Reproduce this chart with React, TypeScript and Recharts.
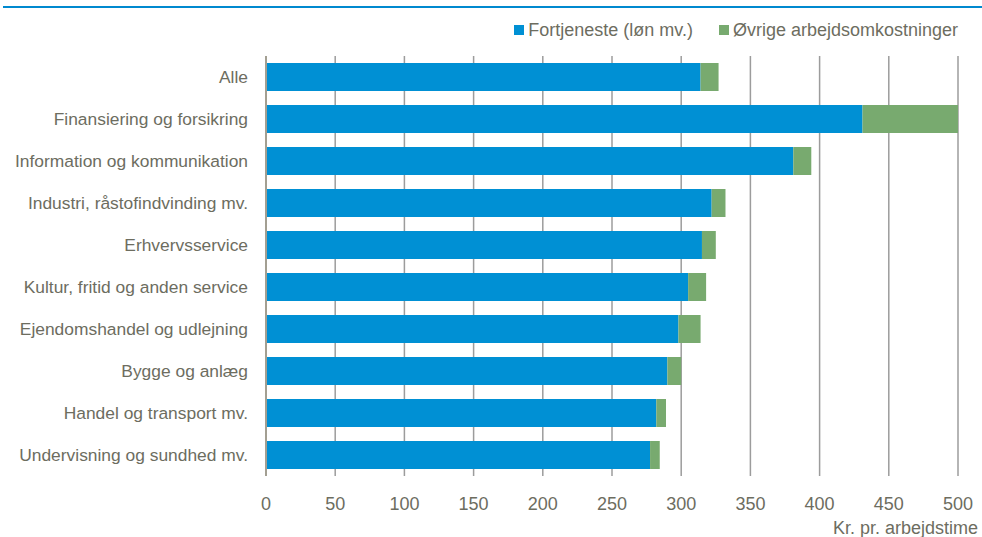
import { BarChart, Bar, XAxis, YAxis, CartesianGrid } from 'recharts';

const categories = [
  'Alle',
  'Finansiering og forsikring',
  'Information og kommunikation',
  'Industri, råstofindvinding mv.',
  'Erhvervsservice',
  'Kultur, fritid og anden service',
  'Ejendomshandel og udlejning',
  'Bygge og anlæg',
  'Handel og transport mv.',
  'Undervisning og sundhed mv.',
];
const fortjeneste = [314, 431, 381, 322, 315, 305, 298, 290, 282, 277.5];
const oevrige = [13, 69, 13, 10, 10, 13, 16, 10, 7, 7];
const xTicks = [0, 50, 100, 150, 200, 250, 300, 350, 400, 450, 500];

const data = categories.map((name, i) => ({
  name,
  fortjeneste: fortjeneste[i],
  oevrige: oevrige[i],
}));

const BLUE = '#0090d4';
const GREEN = '#78aa6f';
const TEXT = '#6d6d5f';
const FONT = "'Liberation Sans Narrow', 'Arial Narrow', 'Liberation Sans', sans-serif";

function LegendBox() {
  const items = [
    { label: 'Fortjeneste (løn mv.)', color: BLUE },
    { label: 'Øvrige arbejdsomkostninger', color: GREEN },
  ];
  return (
    <div style={{
      position: 'absolute', top: 19, right: 24, display: 'flex',
      fontFamily: FONT, fontSize: 18, color: TEXT, lineHeight: '22px',
    }}>
      {items.map(it => (
        <div key={it.label} style={{ display: 'flex', alignItems: 'center', marginLeft: 26 }}>
          <span style={{ width: 10, height: 10, background: it.color, marginRight: 4, display: 'inline-block' }} />
          <span>{it.label}</span>
        </div>
      ))}
    </div>
  );
}

export default function App() {
  return (
    <div style={{ position: 'absolute', left: 0, top: 0, width: 982, height: 537, background: '#fff' }}>
      <div style={{ position: 'absolute', left: 3, top: 6, width: 979, height: 2, background: '#0089cf' }} />
      <LegendBox />
      <BarChart
        width={982}
        height={537}
        data={data}
        layout="vertical"
        margin={{ top: 56, right: 24, bottom: 0, left: 0 }}
        barSize={28}
      >
        <CartesianGrid horizontal={false} vertical stroke="#9c9c9c" strokeWidth={1.5} />
        <XAxis
          type="number"
          domain={[0, 500]}
          ticks={xTicks}
          height={61}
          axisLine={false}
          tickLine={false}
          tickSize={0}
          tickMargin={21}
          tick={{ fill: TEXT, fontSize: 18, fontFamily: FONT }}
          label={{
            value: 'Kr. pr. arbejdstime',
            position: 'insideBottomRight',
            offset: 0,
            dx: 20,
            dy: -3,
            fill: TEXT,
            fontSize: 18,
            fontFamily: FONT,
          }}
        />
        <YAxis
          type="category"
          dataKey="name"
          width={266}
          axisLine={{ stroke: '#a39f92', strokeWidth: 2 }}
          tickLine={false}
          tickSize={0}
          tickMargin={18}
          interval={0}
          tick={{ fill: TEXT, fontSize: 17.4, fontFamily: FONT }}
        />
        <Bar dataKey="fortjeneste" stackId="a" fill={BLUE} isAnimationActive={false} />
        <Bar dataKey="oevrige" stackId="a" fill={GREEN} isAnimationActive={false} />
      </BarChart>
    </div>
  );
}
